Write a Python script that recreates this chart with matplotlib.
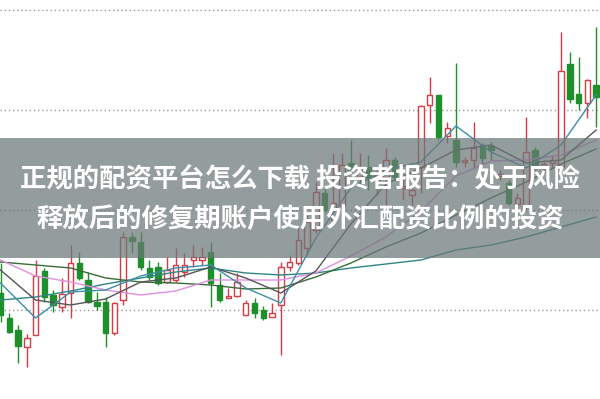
import numpy as np
import matplotlib
matplotlib.use("Agg")
import matplotlib.pyplot as plt
from matplotlib.patches import Rectangle

# candle data (price units), one entry per session
opens = [10.17, 9.92, 9.80, 9.63, 9.75, 10.39, 10.15, 10.03, 10.17, 10.47,
         10.30, 10.08, 10.08, 9.77, 10.10, 10.73, 10.68, 10.42, 10.43, 10.28,
         10.30, 10.38, 10.50, 10.50, 10.58, 10.25, 10.12, 10.14, 9.95, 10.07,
         10.00, 9.93, 10.05, 10.43, 10.47, 10.62, 10.80, 11.17, 10.90, 11.05,
         11.47, 11.33, 11.43, 11.30, 11.33, 11.50, 11.22, 11.15, 11.43, 12.05,
         12.15, 11.74, 11.70, 11.48, 11.50, 11.65, 11.64, 11.34, 11.27, 11.06,
         11.03, 11.60, 11.44, 11.47, 11.43, 12.46, 12.16, 12.07, 12.25]
closes = [9.95, 9.78, 9.64, 9.72, 10.34, 10.13, 10.05, 10.16, 10.47, 10.32,
          10.08, 10.04, 9.77, 10.07, 10.73, 10.69, 10.43, 10.33, 10.27, 10.40,
          10.45, 10.45, 10.53, 10.53, 10.27, 10.10, 10.14, 10.28, 10.07, 9.97,
          9.92, 9.97, 10.43, 10.48, 10.70, 10.88, 11.18, 11.00, 11.07, 11.45,
          11.40, 11.43, 11.32, 11.34, 11.50, 11.33, 11.24, 11.20, 12.04, 12.15,
          11.73, 11.82, 11.48, 11.49, 11.62, 11.52, 11.60, 11.36, 11.07, 11.12,
          11.58, 11.42, 11.46, 11.50, 12.39, 12.11, 12.07, 12.30, 12.13]
highs = [10.47, 9.97, 9.85, 9.76, 10.50, 10.42, 10.20, 10.32, 10.65, 10.58,
         10.38, 10.18, 10.13, 10.08, 10.78, 10.78, 10.78, 10.50, 10.48, 10.53,
         10.62, 10.57, 10.65, 10.63, 10.68, 10.37, 10.22, 10.37, 10.10, 10.12,
         10.04, 10.07, 10.48, 10.55, 10.82, 10.95, 11.28, 11.23, 11.57, 11.57,
         11.70, 11.57, 11.55, 11.40, 11.62, 11.53, 11.33, 11.25, 12.05, 12.33,
         12.15, 11.88, 12.47, 11.53, 11.88, 11.67, 11.68, 11.40, 11.30, 11.17,
         11.93, 11.63, 11.50, 11.55, 12.78, 12.58, 12.53, 12.31, 12.83]
lows = [9.88, 9.77, 9.47, 9.43, 9.75, 10.08, 9.98, 9.98, 9.92, 10.30,
        10.07, 10.00, 9.63, 9.75, 10.05, 10.57, 10.40, 10.30, 10.25, 10.27,
        10.28, 10.33, 10.43, 10.45, 10.03, 10.08, 10.12, 10.13, 9.95, 9.92,
        9.90, 9.93, 9.55, 10.39, 10.45, 10.55, 10.77, 10.98, 10.87, 11.03,
        11.37, 11.27, 11.20, 11.15, 11.03, 11.30, 11.10, 11.05, 11.17, 11.87,
        11.70, 11.67, 11.43, 11.43, 11.42, 11.45, 11.50, 11.30, 11.05, 11.00,
        11.00, 11.40, 11.40, 11.42, 11.42, 12.07, 12.00, 11.92, 11.83]

# moving averages read every 4th session
ma_idx = list(range(0, 69, 4))
ma5 = [10.27, 9.92, 10.18, 10.20, 10.34, 10.42, 10.45, 10.22, 10.07,
       10.72, 11.22, 11.40, 11.48, 11.84, 11.58, 11.42, 11.65, 12.15]
ma10 = [10.40, 10.10, 10.05, 10.11, 10.28, 10.32, 10.43, 10.32, 10.17,
        10.39, 10.86, 11.26, 11.42, 11.60, 11.65, 11.47, 11.50, 11.80]
ma20 = [10.50, 10.34, 10.28, 10.20, 10.15, 10.19, 10.30, 10.30, 10.30,
        10.37, 10.54, 10.73, 10.99, 11.34, 11.49, 11.50, 11.55, 11.70]
ma30 = [10.48, 10.45, 10.42, 10.32, 10.28, 10.27, 10.25, 10.21, 10.22,
        10.33, 10.47, 10.63, 10.77, 10.95, 11.12, 11.28, 11.46, 11.61]
ma60 = [10.10, 10.13, 10.19, 10.26, 10.32, 10.38, 10.42, 10.37, 10.35,
        10.37, 10.42, 10.46, 10.50, 10.60, 10.65, 10.73, 10.83, 10.93]

grid_levels = [10.0, 11.0, 12.0, 13.0]
title_lines = ["正规的配资平台怎么下载 投资者报告：处于风险",
               "释放后的修复期账户使用外汇配资比例的投资"]

RED = "#d93a44"
GREEN = "#1f8f2c"

fig = plt.figure(figsize=(6, 3.99), dpi=100)
ax = fig.add_axes([0, 0, 1, 1])
ax.set_xlim(-0.06, 68.44)
ax.set_ylim(9.11, 13.10)
ax.axis("off")

for lvl in grid_levels:
    ax.axhline(lvl, color="#9a9a9a", lw=1, ls=(0, (1, 2)), zorder=0)

x = np.arange(len(opens))
o = np.array(opens)
c = np.array(closes)
up = c >= o

# wicks
ax.vlines(x[up], lows_arr := np.array(lows)[up], np.array(highs)[up], color=RED, lw=1, zorder=2)
ax.vlines(x[~up], np.array(lows)[~up], np.array(highs)[~up], color=GREEN, lw=1, zorder=2)

# bodies
body_h = np.maximum(np.abs(c - o), 0.02)
body_b = np.minimum(o, c)
ax.bar(x[up], body_h[up], bottom=body_b[up], width=0.62, facecolor="white",
       edgecolor=RED, linewidth=1, zorder=3)
ax.bar(x[~up], body_h[~up], bottom=body_b[~up], width=0.62, facecolor=GREEN,
       edgecolor=GREEN, linewidth=1, zorder=3)

# moving average lines
ax.plot(ma_idx, ma60, color="#2f8585", lw=1, zorder=4)
ax.plot(ma_idx, ma30, color="#3a6b3a", lw=1, zorder=4)
ax.plot(ma_idx, ma20, color="#e08ee0", lw=1, zorder=4)
ax.plot(ma_idx, ma10, color="#555555", lw=1, zorder=4)
ax.plot(ma_idx, ma5, color="#3a8fa8", lw=1, zorder=4)

# title banner
fig.patches.append(Rectangle((0, 0.3534), 1, 0.3008, transform=fig.transFigure,
                             facecolor="#6b7878", alpha=0.72, edgecolor="none", zorder=10))
for txt, yy in zip(title_lines, [0.549, 0.450]):
    fig.text(0.5, yy, txt, ha="center", va="center", color="white", fontsize=19,
             fontweight="bold", family=["Noto Sans CJK SC", "DejaVu Sans"], zorder=11)

fig.savefig("out.png", dpi=100)
